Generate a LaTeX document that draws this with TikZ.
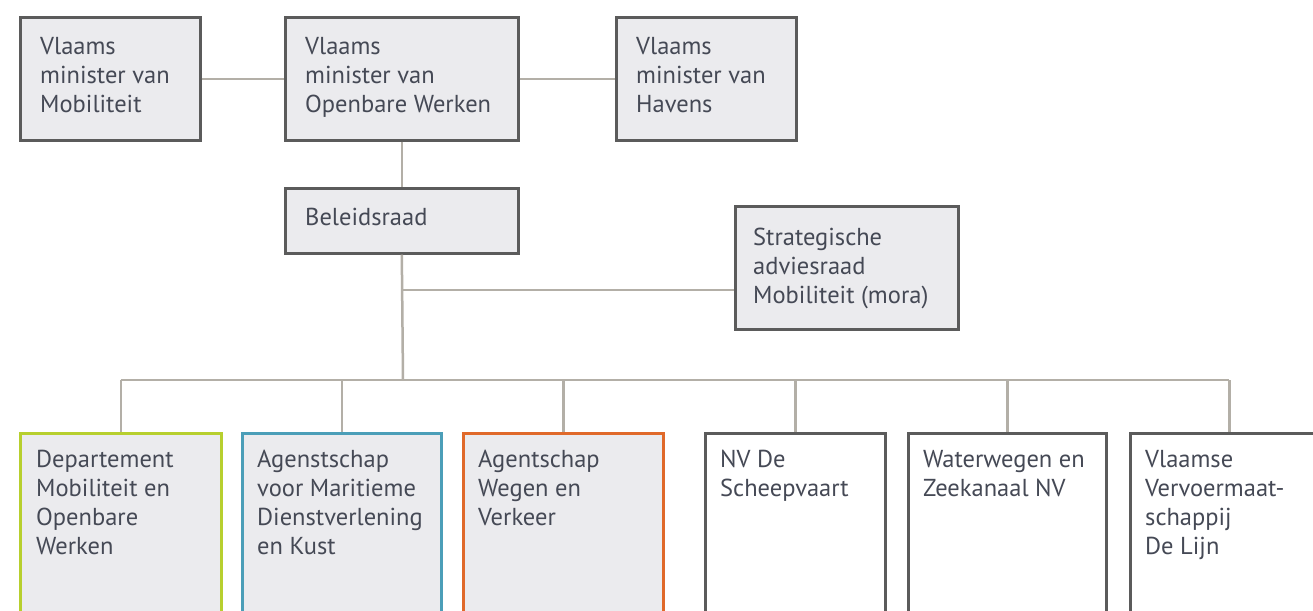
\documentclass[tikz,border=0pt]{standalone}
\usepackage{fontspec}
\setmainfont{PT Sans}
\usetikzlibrary{calc}
\definecolor{boxfill}{HTML}{EBEBEE}
\definecolor{boxline}{HTML}{5B5B5B}
\definecolor{connc}{HTML}{B3AFA7}
\definecolor{txtc}{HTML}{454955}
\definecolor{cgreen}{HTML}{B7CF2E}
\definecolor{cblue}{HTML}{4B9EB8}
\definecolor{corange}{HTML}{E0692A}
\tikzset{
  orgbox/.style={draw=boxline, fill=boxfill, line width=2.6pt, anchor=north west, inner sep=0pt},
  whitebox/.style={orgbox, fill=white},
  conn/.style={draw=connc, line width=2.5pt},
  txt/.style={anchor=north west, inner sep=0pt, align=left, text=txtc,
    font=\fontsize{24.5}{29}\selectfont},
}
\begin{document}
\begin{tikzpicture}[x=1pt,y=-1pt]
\clip (0,0) rectangle (1313,610);
\fill[white] (0,0) rectangle (1313,610);
% boxes
\node[orgbox, minimum width=180, minimum height=123] (m1) at (19,16) {};
\node[orgbox, minimum width=233, minimum height=123] (m2) at (284,16) {};
\node[orgbox, minimum width=180, minimum height=123] (m3) at (615,16) {};
\node[orgbox, minimum width=233, minimum height=65] (br) at (284,187) {};
\node[orgbox, minimum width=223, minimum height=123] (sa) at (734,205) {};
\node[orgbox, draw=cgreen, minimum width=201, minimum height=220] (d1) at (19,432) {};
\node[orgbox, draw=cblue, minimum width=199, minimum height=220] (d2) at (241,432) {};
\node[orgbox, draw=corange, minimum width=200, minimum height=220] (d3) at (462,432) {};
\node[whitebox, minimum width=180, minimum height=220] (d4) at (704,432) {};
\node[whitebox, minimum width=198, minimum height=220] (d5) at (907,432) {};
\node[whitebox, minimum width=198, minimum height=220] (d6) at (1129,432) {};
% connectors
\coordinate (j) at (403,290);
\coordinate (bus) at (403,380);
\draw[conn] (m1.east) -- (m2.west);
\draw[conn] (m2.east) -- (m3.west);
\draw[conn] (m2.south) -- (br.north);
\draw[conn] (br.south) -- (bus);
\draw[conn] (j) -- (j -| sa.west);
\draw[conn] (d1.north |- bus) -- (d6.north |- bus);
\foreach \d in {d1,d2,d3,d4,d5,d6}{
  \draw[conn] (\d.north |- bus) -- (\d.north);
}
% texts
\node[txt] (t1) at (40,37.5) {Vlaams\\minister van\\Mobiliteit};
\node[txt] (t2) at (305,37.5) {Vlaams\\minister van\\Openbare Werken};
\node[txt] (t3) at (636,37.5) {Vlaams\\minister van\\Havens};
\node[txt] (tb) at (305,208) {Beleidsraad};
\node[txt] (ts) at (753,227.5) {Strategische\\adviesraad\\Mobiliteit (mora)};
\node[txt] (u1) at (36,450) {Departement\\Mobiliteit en\\Openbare\\Werken};
\node[txt] (u2) at (257,450) {Agenstschap\\voor Maritieme\\Dienstverlening\\en Kust};
\node[txt] (u3) at (478,450) {Agentschap\\Wegen en\\Verkeer};
\node[txt] (u4) at (720,450) {NV De\\Scheepvaart};
\node[txt] (u5) at (923,450) {Waterwegen en\\Zeekanaal NV};
\node[txt] (u6) at (1145,450) {Vlaamse\\Vervoermaat-\\schappij\\De Lijn};
\end{tikzpicture}
\end{document}
